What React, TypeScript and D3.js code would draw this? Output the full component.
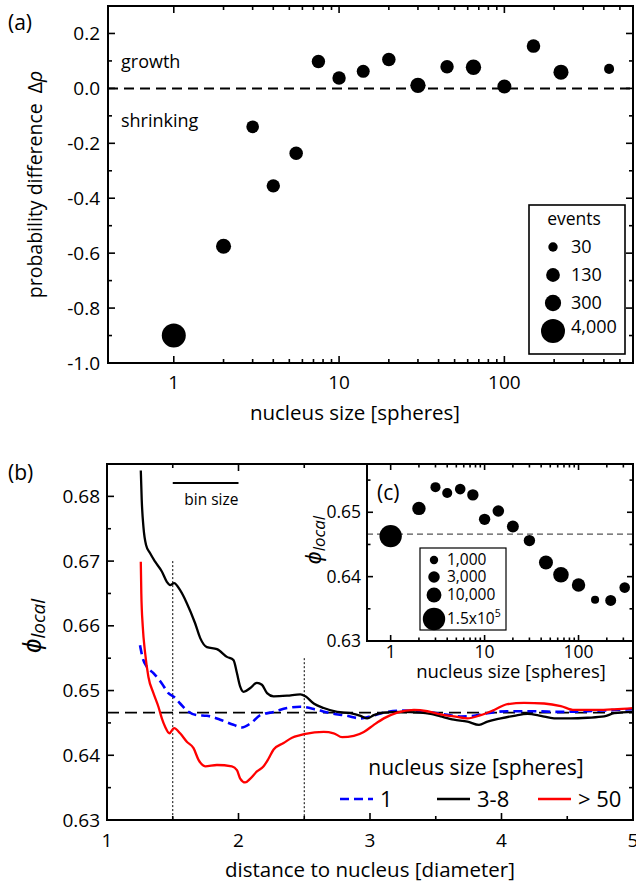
import React from 'react'
import * as d3 from 'd3'

// ---------- panel (a): growth vs shrinking probability ----------
const nucleusSizes = [1, 2, 3, 4, 5.5, 7.5, 10, 14, 20, 30, 45, 65, 100, 150, 220, 430]
const probDiff = [-0.9, -0.575, -0.14, -0.355, -0.236, 0.098, 0.038, 0.062, 0.105, 0.011, 0.079, 0.077, 0.007, 0.154, 0.059, 0.071]
const eventCounts = [4000, 200, 90, 115, 120, 115, 115, 100, 120, 220, 115, 220, 140, 120, 200, 37]
const eventLegend = [30, 130, 300, 4000]
const eventLegendLabels = ['30', '130', '300', '4,000']
const yTicksA = [-1.0, -0.8, -0.6, -0.4, -0.2, 0.0, 0.2]
const yMinorA = [-0.9, -0.7, -0.5, -0.3, -0.1, 0.1]

// ---------- panel (b): local packing fraction vs distance ----------
const curveSingle: [number, number][] = [
  [1.251, 0.657], [1.272, 0.655], [1.302, 0.6537], [1.353, 0.6527], [1.417, 0.6511], [1.467, 0.6496],
  [1.51, 0.649], [1.556, 0.648], [1.607, 0.6469], [1.683, 0.6462], [1.76, 0.6461], [1.861, 0.6455],
  [1.962, 0.6447], [2.026, 0.6443], [2.09, 0.6449], [2.166, 0.6462], [2.267, 0.6467], [2.369, 0.6473],
  [2.47, 0.6475], [2.598, 0.647], [2.699, 0.6465], [2.826, 0.6461], [2.928, 0.6457], [3.004, 0.646],
  [3.105, 0.6466], [3.232, 0.6469], [3.385, 0.6468], [3.537, 0.6464], [3.69, 0.646], [3.791, 0.6461],
  [3.893, 0.6465], [4.045, 0.6468], [4.248, 0.6468], [4.451, 0.6467], [4.655, 0.6468], [4.857, 0.647],
  [5.0, 0.6471],
]
const curveSmall: [number, number][] = [
  [1.257, 0.684], [1.264, 0.6795], [1.277, 0.6753], [1.297, 0.6725], [1.328, 0.6712], [1.366, 0.6699],
  [1.417, 0.6684], [1.455, 0.6668], [1.48, 0.6663], [1.51, 0.6666], [1.556, 0.6655], [1.607, 0.6635],
  [1.67, 0.6604], [1.709, 0.6581], [1.76, 0.6567], [1.836, 0.6564], [1.912, 0.6552], [1.962, 0.6547],
  [1.988, 0.6527], [2.013, 0.6506], [2.039, 0.6498], [2.09, 0.6504], [2.14, 0.6512], [2.178, 0.6509],
  [2.217, 0.6496], [2.267, 0.6491], [2.369, 0.6492], [2.47, 0.6494], [2.509, 0.6491], [2.572, 0.648],
  [2.648, 0.6473], [2.75, 0.6467], [2.851, 0.6465], [2.928, 0.6461], [2.979, 0.6457], [3.029, 0.6462],
  [3.105, 0.6466], [3.232, 0.6467], [3.385, 0.6466], [3.461, 0.6464], [3.537, 0.646], [3.638, 0.6455],
  [3.741, 0.6452], [3.829, 0.6447], [3.893, 0.6452], [3.994, 0.6457], [4.096, 0.6461], [4.198, 0.6464],
  [4.299, 0.6461], [4.4, 0.6457], [4.528, 0.6457], [4.655, 0.6458], [4.781, 0.646], [4.857, 0.6465],
  [5.0, 0.6467],
]
const curveLarge: [number, number][] = [
  [1.257, 0.6699], [1.261, 0.665], [1.272, 0.6599], [1.29, 0.6558], [1.315, 0.6521], [1.353, 0.6496],
  [1.391, 0.6475], [1.417, 0.6457], [1.442, 0.6444], [1.475, 0.6434], [1.51, 0.6442], [1.556, 0.6434],
  [1.607, 0.6421], [1.658, 0.6411], [1.696, 0.6393], [1.747, 0.6383], [1.836, 0.6385], [1.95, 0.6383],
  [1.988, 0.6377], [2.013, 0.6364], [2.051, 0.6358], [2.09, 0.6364], [2.14, 0.6375], [2.191, 0.6383],
  [2.229, 0.6395], [2.267, 0.6409], [2.343, 0.6419], [2.407, 0.6427], [2.47, 0.6431], [2.509, 0.6433],
  [2.648, 0.6436], [2.724, 0.6434], [2.788, 0.6428], [2.877, 0.643], [2.953, 0.6436], [3.029, 0.6447],
  [3.105, 0.6457], [3.207, 0.6466], [3.334, 0.647], [3.436, 0.6468], [3.537, 0.6463], [3.638, 0.646],
  [3.741, 0.6457], [3.842, 0.6462], [3.944, 0.647], [4.045, 0.6479], [4.172, 0.6481], [4.324, 0.648],
  [4.451, 0.6476], [4.553, 0.647], [4.731, 0.647], [4.857, 0.6471], [5.0, 0.6473],
]
const phiBulk = 0.6466
const guideX = [1.5, 2.5]
const guideTop = [0.67, 0.655]
const binSize = [1.5, 2.0]
const seriesLabels = ['1', '3-8', '> 50']
const seriesColors = ['#0000ff', '#000000', '#ff0000']
const xTicksB = [1, 2, 3, 4, 5]
const xMinorB = [1.5, 2.5, 3.5, 4.5]
const yTicksB = [0.63, 0.64, 0.65, 0.66, 0.67, 0.68]
const yMinorB = [0.635, 0.645, 0.655, 0.665, 0.675]

// ---------- inset (c): mean packing fraction around nuclei ----------
const insetSizes = [1, 2, 3, 4, 5.5, 7.5, 10, 14, 20, 30, 45, 65, 100, 150, 220, 310]
const insetPhi = [0.6463, 0.6506, 0.6539, 0.653, 0.6536, 0.6527, 0.6489, 0.6502, 0.6478, 0.6456, 0.6422, 0.6403, 0.6387, 0.6364, 0.6363, 0.6383]
const insetEvents = [150000, 6000, 1800, 1800, 2200, 2900, 2900, 3100, 3600, 2900, 7400, 13000, 6000, 900, 2500, 2200]
const insetLegend = [1000, 3000, 10000, 150000]
const insetLegendLabels = ['1,000', '3,000', '10,000', '1.5x10']
const yTicksC = [0.63, 0.64, 0.65]
const yMinorC = [0.635, 0.645, 0.655]

const FONT = '"Open Sans", sans-serif'

function logTicks(domain: number[]) {
  const major: number[] = []
  const minor: number[] = []
  for (let p = 0; p <= 3; p++) {
    const base = Math.pow(10, p)
    if (base >= domain[0] && base <= domain[1]) major.push(base)
    for (let k = 2; k <= 9; k++) {
      const v = k * base
      if (v > domain[0] && v < domain[1]) minor.push(v)
    }
  }
  return { major, minor }
}

function Frame({ x, y, xMajor, xMinor, yMajor, yMinor, major = 7, minor = 4 }: any) {
  const [x0, x1] = x.range()
  const [y0, y1] = y.range()
  const vt = (v: number, len: number, k: string) => (
    <g key={k}>
      <line x1={x(v)} x2={x(v)} y1={y0} y2={y0 - len} />
      <line x1={x(v)} x2={x(v)} y1={y1} y2={y1 + len} />
    </g>
  )
  const ht = (v: number, len: number, k: string) => (
    <g key={k}>
      <line x1={x0} x2={x0 + len} y1={y(v)} y2={y(v)} />
      <line x1={x1} x2={x1 - len} y1={y(v)} y2={y(v)} />
    </g>
  )
  return (
    <g stroke="#000" strokeWidth={1.6}>
      {xMajor.map((v: number, i: number) => vt(v, major, 'xM' + i))}
      {xMinor.map((v: number, i: number) => vt(v, minor, 'xm' + i))}
      {yMajor.map((v: number, i: number) => ht(v, major, 'yM' + i))}
      {yMinor.map((v: number, i: number) => ht(v, minor, 'ym' + i))}
      <rect x={x0} y={y1} width={x1 - x0} height={y0 - y1} fill="none" strokeWidth={2} />
    </g>
  )
}

export default function App() {
  // panel (a) scales
  const xA = d3.scaleLog().domain([0.4, 600]).range([108, 633])
  const yA = d3.scaleLinear().domain([-1.0, 0.3]).range([363, 6])
  const rA = d3.scaleLog().domain([30, 4000]).range([4.7, 12])
  const ticksA = logTicks(xA.domain())

  // panel (b) scales
  const xB = d3.scaleLinear().domain([1, 5]).range([107, 633])
  const yB = d3.scaleLinear().domain([0.63, 0.685]).range([820, 464])
  const line = d3.line<[number, number]>().x((d) => xB(d[0])).y((d) => yB(d[1])).curve(d3.curveMonotoneX)
  const curves = [curveSingle, curveSmall, curveLarge]

  // inset (c) scales
  const xC = d3.scaleLog().domain([0.56, 380]).range([367, 633])
  const yC = d3.scaleLinear().domain([0.63, 0.6575]).range([641, 464])
  const rC = d3.scaleLog().domain([1000, 150000]).range([4.2, 11.2])
  const ticksC = logTicks(xC.domain())

  return (
    <svg width={636} height={883} style={{ position: 'absolute', left: 0, top: 0, background: '#fff' }} fontFamily={FONT}>
      <rect width={636} height={883} fill="#fff" />

      {/* ---------------- panel (a) ---------------- */}
      <text x={8} y={30} fontSize={21}>(a)</text>
      <line x1={xA.range()[0]} x2={xA.range()[1]} y1={yA(0)} y2={yA(0)} stroke="#000" strokeWidth={2} strokeDasharray="10,6" />
      <text x={121} y={68} fontSize={18}>growth</text>
      <text x={121} y={127} fontSize={18}>shrinking</text>
      {nucleusSizes.map((s, i) => (
        <circle key={i} cx={xA(s)} cy={yA(probDiff[i])} r={rA(eventCounts[i])} fill="#000" />
      ))}
      <Frame x={xA} y={yA} xMajor={ticksA.major} xMinor={ticksA.minor} yMajor={yTicksA} yMinor={yMinorA} />
      {yTicksA.map((v) => (
        <text key={v} x={100} y={yA(v)} dy="0.35em" textAnchor="end" fontSize={19}>{v.toFixed(1)}</text>
      ))}
      {ticksA.major.map((v) => (
        <text key={v} x={xA(v)} y={389} textAnchor="middle" fontSize={19}>{v}</text>
      ))}
      <text x={355} y={420} textAnchor="middle" fontSize={20.5}>nucleus size [spheres]</text>
      <text transform={`translate(42,${(yA.range()[0] + yA.range()[1]) / 2}) rotate(-90)`} textAnchor="middle" fontSize={19.5}>
        probability difference
        <tspan dx={10}>Δ</tspan>
        <tspan fontStyle="italic">ρ</tspan>
      </text>
      {/* legend (a) */}
      <rect x={529} y={205} width={96} height={149} fill="#fff" stroke="#000" strokeWidth={1.6} />
      <text x={574} y={225} textAnchor="middle" fontSize={17.5}>events</text>
      {eventLegend.map((e, i) => (
        <g key={e}>
          <circle cx={553} cy={247 + i * 28} r={rA(e)} fill="#000" />
          <text x={571} y={247 + i * 28 - (i === 3 ? 4 : 0)} dy="0.35em" fontSize={18}>{eventLegendLabels[i]}</text>
        </g>
      ))}

      {/* ---------------- panel (b) ---------------- */}
      <text x={8} y={480} fontSize={21}>(b)</text>
      <line x1={xB.range()[0]} x2={xB.range()[1]} y1={yB(phiBulk)} y2={yB(phiBulk)} stroke="#000" strokeWidth={1.8} strokeDasharray="12,6" />
      {guideX.map((g, i) => (
        <line key={g} x1={xB(g)} x2={xB(g)} y1={yB(guideTop[i])} y2={yB.range()[0]} stroke="#000" strokeWidth={1} strokeDasharray="2,2" />
      ))}
      <line x1={xB(binSize[0])} x2={xB(binSize[1])} y1={483} y2={483} stroke="#000" strokeWidth={2} />
      <text x={xB(binSize[1])} y={505} textAnchor="end" fontSize={15.5}>bin size</text>
      {curves.map((c, i) => (
        <path key={i} d={line(c) || ''} fill="none" stroke={seriesColors[i]} strokeWidth={i === 0 ? 2.6 : 2.3}
          strokeDasharray={i === 0 ? '9,5' : undefined} strokeLinejoin="round" />
      ))}
      <Frame x={xB} y={yB} xMajor={xTicksB} xMinor={xMinorB} yMajor={yTicksB} yMinor={yMinorB} />
      {yTicksB.map((v) => (
        <text key={v} x={100} y={yB(v)} dy="0.35em" textAnchor="end" fontSize={19}>{v.toFixed(2)}</text>
      ))}
      {xTicksB.map((v) => (
        <text key={v} x={xB(v)} y={847} textAnchor="middle" fontSize={19}>{v}</text>
      ))}
      <text x={370} y={877} textAnchor="middle" fontSize={20.5}>distance to nucleus [diameter]</text>
      <text transform="translate(41,626) rotate(-90)" textAnchor="middle" fontStyle="italic">
        <tspan fontSize={26}>ϕ</tspan>
        <tspan fontSize={19} dy={4}>local</tspan>
      </text>
      {/* legend (b) */}
      <text x={476} y={775} textAnchor="middle" fontSize={21}>nucleus size [spheres]</text>
      {seriesLabels.map((s, i) => {
        const lx = [340, 437, 538][i]
        return (
          <g key={s}>
            <line x1={lx} x2={lx + 33} y1={799} y2={799} stroke={seriesColors[i]} strokeWidth={2.6}
              strokeDasharray={i === 0 ? '9,5' : undefined} />
            <text x={lx + 40} y={799} dy="0.35em" fontSize={22}>{s}</text>
          </g>
        )
      })}

      {/* ---------------- inset (c) ---------------- */}
      <rect x={xC.range()[0]} y={yC.range()[1]} width={xC.range()[1] - xC.range()[0]} height={yC.range()[0] - yC.range()[1]} fill="#fff" />
      <line x1={xC.range()[0]} x2={xC.range()[1]} y1={yC(phiBulk)} y2={yC(phiBulk)} stroke="#555" strokeWidth={1.4} strokeDasharray="6,4" />
      {insetSizes.map((s, i) => (
        <circle key={i} cx={xC(s)} cy={yC(insetPhi[i])} r={rC(insetEvents[i])} fill="#000" />
      ))}
      <text x={377} y={500} fontSize={21}>(c)</text>
      <rect x={420} y={548} width={86} height={82} fill="#fff" stroke="#000" strokeWidth={1.2} />
      {insetLegend.map((e, i) => {
        const ly = [560, 577, 595, 619][i]
        return (
          <g key={e}>
            <circle cx={434} cy={ly} r={rC(e)} fill="#000" />
            <text x={447} y={ly} dy="0.35em" fontSize={15.5}>
              {insetLegendLabels[i]}
              {i === 3 && <tspan fontSize={10.5} dy={-7}>5</tspan>}
            </text>
          </g>
        )
      })}
      <Frame x={xC} y={yC} xMajor={ticksC.major} xMinor={ticksC.minor} yMajor={yTicksC} yMinor={yMinorC} major={6} minor={3.5} />
      {yTicksC.map((v) => (
        <text key={v} x={361} y={yC(v)} dy="0.35em" textAnchor="end" fontSize={17.5}>{v.toFixed(2)}</text>
      ))}
      {ticksC.major.map((v) => (
        <text key={v} x={xC(v)} y={658} textAnchor="middle" fontSize={17.5}>{v}</text>
      ))}
      <text x={511} y={678} textAnchor="middle" fontSize={18.5}>nucleus size [spheres]</text>
      <text transform="translate(321,540) rotate(-90)" textAnchor="middle" fontStyle="italic">
        <tspan fontSize={23}>ϕ</tspan>
        <tspan fontSize={17} dy={4}>local</tspan>
      </text>
    </svg>
  )
}
